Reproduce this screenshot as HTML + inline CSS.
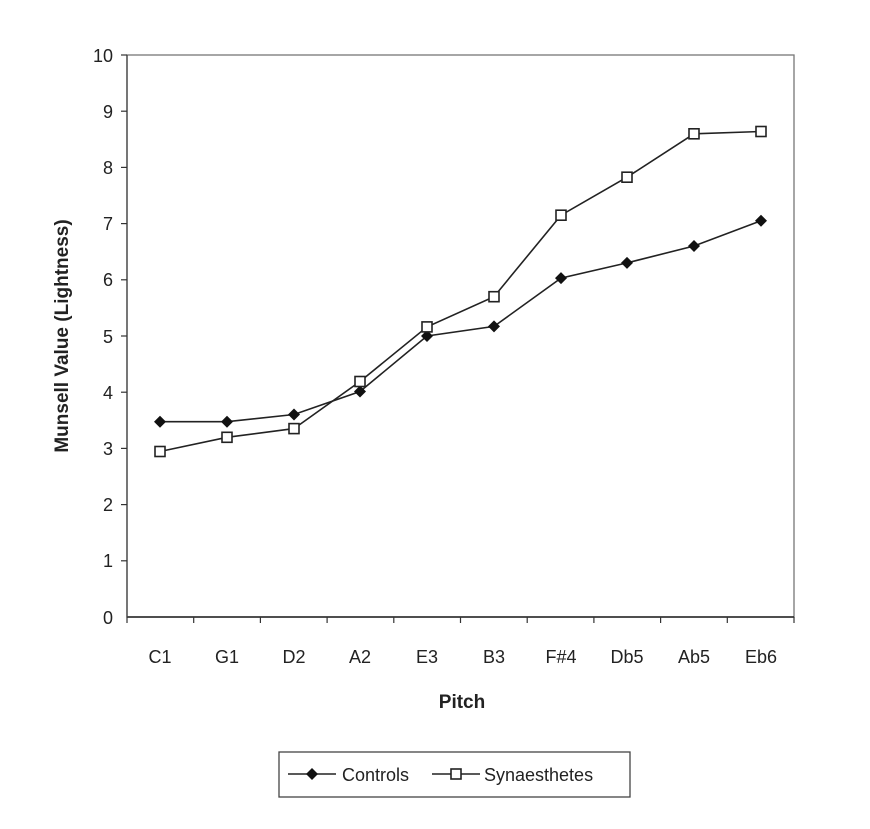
<!DOCTYPE html>
<html><head><style>body{margin:0;background:#fff}</style></head><body>
<svg width="870" height="824" xmlns="http://www.w3.org/2000/svg" font-family="Liberation Sans, Arial, sans-serif">
<rect width="870" height="824" fill="#fff"/>
<rect x="127" y="55" width="667" height="562" fill="none" stroke="#777" stroke-width="1.3"/>
<line x1="127" y1="617" x2="794" y2="617" stroke="#222" stroke-width="1.5"/>
<line x1="127" y1="55" x2="127" y2="617" stroke="#444" stroke-width="1.3"/>
<g stroke="#333" stroke-width="1.2">
<line x1="121" y1="55" x2="127" y2="55"/><line x1="121" y1="111.2" x2="127" y2="111.2"/><line x1="121" y1="167.4" x2="127" y2="167.4"/><line x1="121" y1="223.6" x2="127" y2="223.6"/><line x1="121" y1="279.8" x2="127" y2="279.8"/><line x1="121" y1="336" x2="127" y2="336"/><line x1="121" y1="392.2" x2="127" y2="392.2"/><line x1="121" y1="448.4" x2="127" y2="448.4"/><line x1="121" y1="504.6" x2="127" y2="504.6"/><line x1="121" y1="560.8" x2="127" y2="560.8"/>
<line x1="127" y1="617" x2="127" y2="623"/><line x1="193.7" y1="617" x2="193.7" y2="623"/><line x1="260.4" y1="617" x2="260.4" y2="623"/><line x1="327.1" y1="617" x2="327.1" y2="623"/><line x1="393.8" y1="617" x2="393.8" y2="623"/><line x1="460.5" y1="617" x2="460.5" y2="623"/><line x1="527.2" y1="617" x2="527.2" y2="623"/><line x1="593.9" y1="617" x2="593.9" y2="623"/><line x1="660.6" y1="617" x2="660.6" y2="623"/><line x1="727.3" y1="617" x2="727.3" y2="623"/><line x1="794" y1="617" x2="794" y2="623"/>
</g>
<g font-size="18" fill="#222" text-anchor="end">
<text x="113" y="62">10</text><text x="113" y="118">9</text><text x="113" y="174">8</text><text x="113" y="230">7</text><text x="113" y="286">6</text><text x="113" y="343">5</text><text x="113" y="399">4</text><text x="113" y="455">3</text><text x="113" y="511">2</text><text x="113" y="567">1</text><text x="113" y="624">0</text>
</g>
<g font-size="18" fill="#222" text-anchor="middle">
<text x="160" y="663">C1</text><text x="227" y="663">G1</text><text x="294" y="663">D2</text><text x="360" y="663">A2</text><text x="427" y="663">E3</text><text x="494" y="663">B3</text><text x="561" y="663">F#4</text><text x="627" y="663">Db5</text><text x="694" y="663">Ab5</text><text x="761" y="663">Eb6</text>
</g>
<text x="462" y="708" font-size="19" font-weight="bold" text-anchor="middle" fill="#222">Pitch</text>
<text transform="translate(68,336) rotate(-90)" font-size="19" font-weight="bold" text-anchor="middle" fill="#222">Munsell Value (Lightness)</text>
<polyline fill="none" stroke="#222" stroke-width="1.6" points="160,421.7 227,421.7 294,414.5 360,391.5 427,336 494,326.4 561,278.1 627,262.9 694,246 761,220.7"/>
<polyline fill="none" stroke="#222" stroke-width="1.6" points="160,451.5 227,437.3 294,428.6 360,381.5 427,326.9 494,296.7 561,215.2 627,177.2 694,133.8 761,131.5"/>
<g fill="#111">
<path d="M160,415.7l6,6l-6,6l-6,-6z"/><path d="M227,415.7l6,6l-6,6l-6,-6z"/><path d="M294,408.5l6,6l-6,6l-6,-6z"/><path d="M360,385.5l6,6l-6,6l-6,-6z"/><path d="M427,330l6,6l-6,6l-6,-6z"/><path d="M494,320.4l6,6l-6,6l-6,-6z"/><path d="M561,272.1l6,6l-6,6l-6,-6z"/><path d="M627,256.9l6,6l-6,6l-6,-6z"/><path d="M694,240l6,6l-6,6l-6,-6z"/><path d="M761,214.7l6,6l-6,6l-6,-6z"/>
</g>
<g fill="#fff" stroke="#222" stroke-width="1.6">
<rect x="155" y="446.5" width="10" height="10"/><rect x="222" y="432.3" width="10" height="10"/><rect x="289" y="423.6" width="10" height="10"/><rect x="355" y="376.5" width="10" height="10"/><rect x="422" y="321.9" width="10" height="10"/><rect x="489" y="291.7" width="10" height="10"/><rect x="556" y="210.2" width="10" height="10"/><rect x="622" y="172.2" width="10" height="10"/><rect x="689" y="128.8" width="10" height="10"/><rect x="756" y="126.5" width="10" height="10"/>
</g>
<rect x="279" y="752" width="351" height="45" fill="none" stroke="#444" stroke-width="1.3"/>
<line x1="288" y1="774" x2="336" y2="774" stroke="#222" stroke-width="1.6"/>
<path d="M312,768l6,6l-6,6l-6,-6z" fill="#111"/>
<text x="342" y="781" font-size="18" fill="#222">Controls</text>
<line x1="432" y1="774" x2="480" y2="774" stroke="#222" stroke-width="1.6"/>
<rect x="451" y="769" width="10" height="10" fill="#fff" stroke="#222" stroke-width="1.6"/>
<text x="484" y="781" font-size="18" fill="#222">Synaesthetes</text>
</svg>
</body></html>
